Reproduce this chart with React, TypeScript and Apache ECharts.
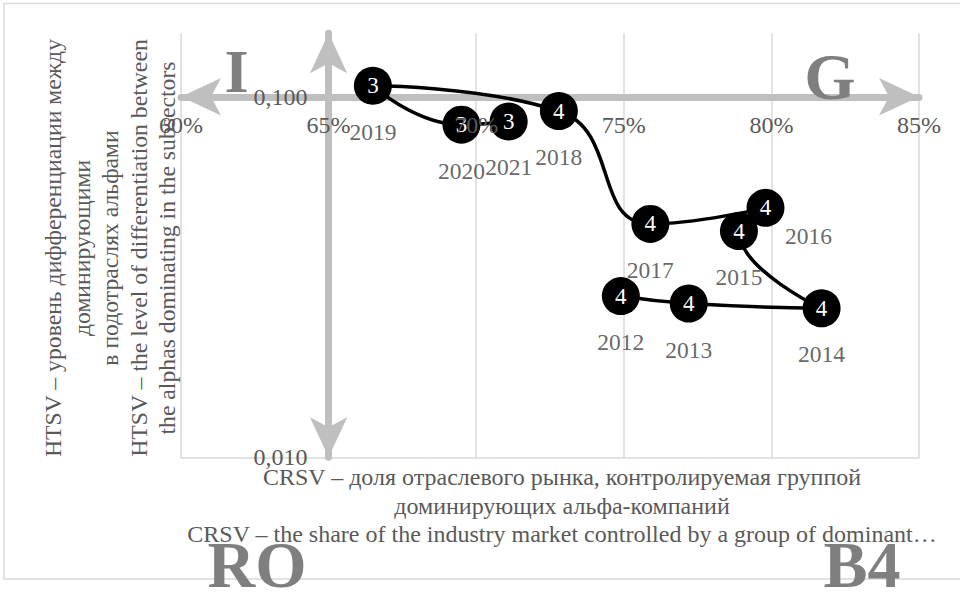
import React, { useEffect, useRef } from 'react';
import * as echarts from 'echarts';

// ---- data ----
const years = ['2012', '2013', '2014', '2015', '2016', '2017', '2018', '2019', '2020', '2021'];
const crsv = [74.9, 77.2, 81.7, 78.9, 79.8, 75.9, 72.8, 66.5, 69.5, 71.1];
const htsv = [0.028, 0.0267, 0.0259, 0.0424, 0.0492, 0.0444, 0.0913, 0.1073, 0.0837, 0.0854];
const groups = [4, 4, 4, 4, 4, 4, 4, 3, 3, 3];

const xMin = 60;
const xMax = 85;
const xStep = 5;
const yMin = 0.01;
const yMax = 0.15;
const yCross = 0.1; // horizontal axis crosses here
const xCross = 65; // vertical axis crosses here

const yTitleLines = [
  'HTSV – уровень дифференциации между',
  'доминирующими',
  'в подотраслях альфами',
  'HTSV – the level of differentiation between',
  'the alphas dominating in the subsectors',
];
const xTitleLines = [
  'CRSV – доля отраслевого рынка, контролируемая группой',
  'доминирующих альфа-компаний',
  'CRSV – the share of the industry market controlled by a group of dominant…',
];
const quadrantLabels = ['I', 'G', 'RO', 'B4'];

const FAMILY = 'Liberation Serif';

export default function App() {
  const ref = useRef<HTMLDivElement>(null);

  useEffect(() => {
    if (!ref.current) return;
    const chart = echarts.init(ref.current, undefined, { renderer: 'svg' });

    const W = 960;
    const H = 592;
    const grid = { left: 181, right: 41, top: 33.3, bottom: 134.7 };
    const gridW = W - grid.left - grid.right;
    const gridH = H - grid.top - grid.bottom;
    const lg = Math.log10;
    const xAxisOffset = -gridH * (lg(yCross) - lg(yMin)) / (lg(yMax) - lg(yMin));
    const yAxisOffset = -gridW * (xCross - xMin) / (xMax - xMin);

    const points = crsv.map((x, i) => [x, htsv[i]]);
    const arrowLine = {
      show: true,
      symbol: ['arrow', 'arrow'],
      symbolSize: [28, 40],
      symbolOffset: [0, 0],
      lineStyle: { color: '#bfbfbf', width: 7 },
    };

    const option: any = {
      animation: false,
      backgroundColor: '#ffffff',
      grid: { ...grid, containLabel: false },
      xAxis: [
        {
          type: 'value', min: xMin, max: xMax, interval: xStep, position: 'bottom', offset: 0, z: 0,
          axisLine: { show: true, lineStyle: { color: '#d9d9d9', width: 1.5 } },
          axisTick: { show: false }, axisLabel: { show: false },
          splitLine: { show: true, lineStyle: { color: '#d9d9d9', width: 1.5 } },
        },
        {
          type: 'value', min: xMin, max: xMax, interval: xStep, position: 'bottom', offset: xAxisOffset, z: 1,
          axisLine: arrowLine,
          axisTick: { show: false }, axisLabel: { show: false }, splitLine: { show: false },
        },
        {
          type: 'value', min: xMin, max: xMax, interval: xStep, position: 'bottom', offset: xAxisOffset, z: 10,
          axisLine: { show: false }, axisTick: { show: false }, splitLine: { show: false },
          axisLabel: {
            show: true, margin: 16, color: '#595959', fontSize: 24, fontFamily: FAMILY,
            formatter: (v: number) => `${v}%`,
          },
        },
      ],
      yAxis: [
        {
          type: 'log', logBase: 10, min: yMin, max: yMax, position: 'left', offset: yAxisOffset, z: 1,
          axisLine: arrowLine,
          axisTick: { show: false },
          splitLine: { show: false },
          axisLabel: {
            show: true, margin: 21, color: '#595959', fontSize: 24, fontFamily: FAMILY,
            showMaxLabel: false,
            formatter: (v: number) => v.toFixed(3).replace('.', ','),
          },
        },
      ],
      series: [
        {
          type: 'line', xAxisIndex: 0, yAxisIndex: 0, data: points, smooth: true,
          symbol: 'circle', symbolSize: 38, z: 3,
          itemStyle: { color: '#000000' },
          lineStyle: { color: '#000000', width: 3.5 },
          label: {
            show: true, position: 'inside', color: '#ffffff', fontSize: 23, fontFamily: FAMILY,
            formatter: (p: any) => String(groups[p.dataIndex]),
          },
        },
        {
          type: 'scatter', xAxisIndex: 0, yAxisIndex: 0, z: 4, symbolSize: 38,
          itemStyle: { color: 'rgba(0,0,0,0)' },
          data: points.map((pt, i) =>
            years[i] === '2016'
              ? { value: pt, label: { offset: [43, -18] } }
              : { value: pt }
          ),
          label: {
            show: true, position: 'bottom', distance: 15, color: '#404040', fontSize: 23.5, fontFamily: FAMILY,
            formatter: (p: any) => years[p.dataIndex],
          },
        },
      ],
      graphic: [
        {
          type: 'rect', z: -10, silent: true,
          shape: { x: 4, y: 3.5, width: 1000, height: 575.5 },
          style: { fill: 'none', stroke: '#d9d9d9', lineWidth: 1.5 },
        },
        {
          type: 'text', x: 110, y: 248, rotation: Math.PI / 2, z: 5,
          style: {
            text: yTitleLines.join('\n'), fill: '#595959', font: `23.7px ${FAMILY}`,
            lineHeight: 28.5, align: 'center', verticalAlign: 'middle',
          },
        },
        {
          type: 'text', x: 562, y: 463, z: 5,
          style: {
            text: xTitleLines.join('\n'), fill: '#595959', font: `24px ${FAMILY}`,
            lineHeight: 28.5, align: 'center', verticalAlign: 'top',
          },
        },
        {
          type: 'text', x: 236.5, y: 71, z: 20,
          style: { text: quadrantLabels[0], fill: '#7f7f7f', font: `bold 62px ${FAMILY}`, align: 'center', verticalAlign: 'middle' },
        },
        {
          type: 'text', x: 830, y: 76, z: 20,
          style: { text: quadrantLabels[1], fill: '#7f7f7f', font: `bold 66px ${FAMILY}`, align: 'center', verticalAlign: 'middle' },
        },
        {
          type: 'text', x: 257, y: 564, z: 20,
          style: { text: quadrantLabels[2], fill: '#7f7f7f', font: `bold 66px ${FAMILY}`, align: 'center', verticalAlign: 'middle' },
        },
        {
          type: 'text', x: 862, y: 564, z: 20,
          style: { text: quadrantLabels[3], fill: '#7f7f7f', font: `bold 66px ${FAMILY}`, align: 'center', verticalAlign: 'middle' },
        },
      ],
    };

    chart.setOption(option);
    return () => chart.dispose();
  }, []);

  return (
    <div
      ref={ref}
      style={{ position: 'fixed', left: 0, top: 0, width: 960, height: 592, background: '#fff' }}
    />
  );
}
